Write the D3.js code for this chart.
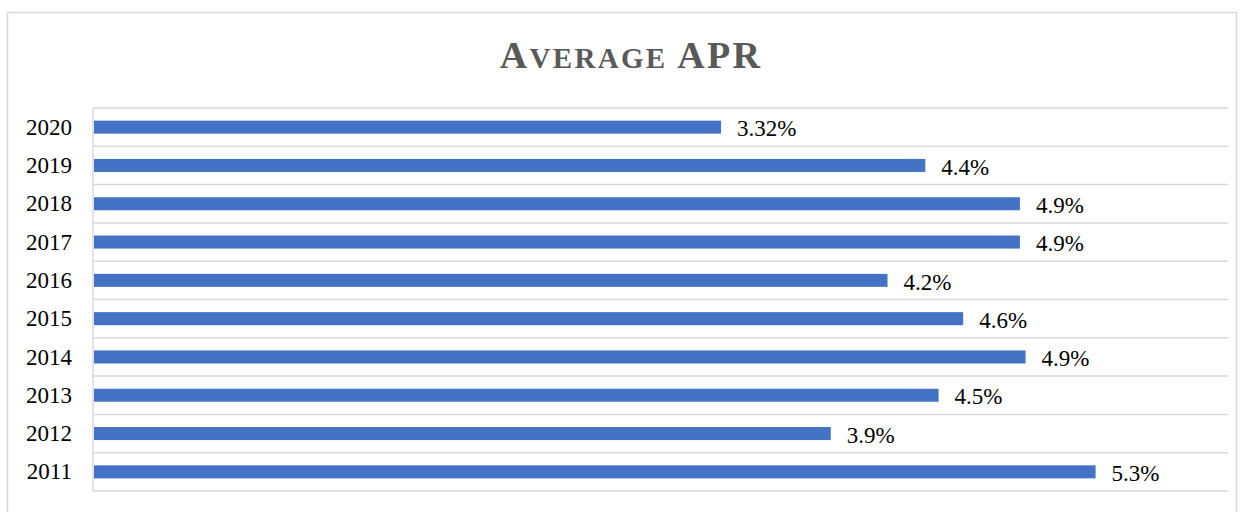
<!DOCTYPE html>
<html>
<head>
<meta charset="utf-8">
<script src="https://cdn.jsdelivr.net/npm/d3@7"></script>
<style>
  body { margin: 0; background: #fff; }
  text { font-family: "Liberation Serif", "Times New Roman", serif; }
</style>
</head>
<body>
<svg id="vimage" width="1244" height="512"></svg>
<script>
//---------------------------------------- data ---------------------------------------
var years = ["2020", "2019", "2018", "2017", "2016", "2015", "2014", "2013", "2012", "2011"];
var apr = [3.32, 4.4, 4.9, 4.9, 4.2, 4.6, 4.93, 4.47, 3.9, 5.3];
var aprLabels = ["3.32%", "4.4%", "4.9%", "4.9%", "4.2%", "4.6%", "4.9%", "4.5%", "3.9%", "5.3%"];

var rows = years.map(function(y, i) {
    return {"year": y, "value": apr[i], "label": aprLabels[i]};
});

var svg = d3.select("#vimage");

// outer chart border
svg.append("rect")
    .attr("x", 7.5).attr("y", 12.5)
    .attr("width", 1229).attr("height", 520)
    .style("fill", "none")
    .style("stroke", "#d9d9d9")
    .style("stroke-width", 1.5);

//---------------------------------------- title ---------------------------------------
var title = svg.append("text")
    .attr("x", 631)
    .attr("y", 68)
    .attr("text-anchor", "middle")
    .style("font-weight", "bold")
    .style("fill", "#595959")
    .style("letter-spacing", "2.3px");
title.append("tspan").style("font-size", "38px").text("A");
title.append("tspan").style("font-size", "29px").text("VERAGE");
title.append("tspan").style("font-size", "38px").text(" APR");

//---------------------------------------- bars ---------------------------------------
var plotLeft = 93, plotRight = 1228, plotTop = 108, plotBottom = 491;

var x = d3.scaleLinear().domain([0, 6]).range([plotLeft, plotRight]);
var y = d3.scaleBand().domain(years).range([plotTop, plotBottom]).paddingInner(0.66).paddingOuter(0.33);
var band = d3.scaleBand().domain(years).range([plotTop, plotBottom]);

// horizontal gridlines between categories
var gridYs = years.map(function(d) { return band(d); }).concat([plotBottom]);
svg.selectAll(".grid")
    .data(gridYs)
    .enter().append("line")
    .attr("class", "grid")
    .attr("x1", plotLeft).attr("x2", plotRight)
    .attr("y1", function(d) { return d; })
    .attr("y2", function(d) { return d; })
    .style("stroke", "#d9d9d9")
    .style("stroke-width", 1.5);

// vertical axis line
svg.append("line")
    .attr("x1", plotLeft).attr("x2", plotLeft)
    .attr("y1", plotTop).attr("y2", plotBottom)
    .style("stroke", "#d9d9d9")
    .style("stroke-width", 1.5);

svg.selectAll(".bar")
    .data(rows)
    .enter().append("rect")
    .attr("class", "bar")
    .attr("x", x(0) + 1)
    .attr("y", function(d) { return y(d.year); })
    .attr("width", function(d) { return x(d.value) - x(0) - 1; })
    .attr("height", y.bandwidth())
    .style("fill", "#4472c4");

// value labels
svg.selectAll(".val")
    .data(rows)
    .enter().append("text")
    .attr("class", "val")
    .attr("x", function(d) { return x(d.value) + 16; })
    .attr("y", function(d) { return band(d.year) + band.bandwidth() / 2; })
    .attr("dy", "0.4em")
    .style("font-size", "23px")
    .style("fill", "#000")
    .text(function(d) { return d.label; });

// category labels
svg.selectAll(".cat")
    .data(rows)
    .enter().append("text")
    .attr("class", "cat")
    .attr("x", 72)
    .attr("y", function(d) { return band(d.year) + band.bandwidth() / 2; })
    .attr("dy", "0.33em")
    .attr("text-anchor", "end")
    .style("font-size", "23px")
    .style("fill", "#000")
    .text(function(d) { return d.year; });
</script>
</body>
</html>
